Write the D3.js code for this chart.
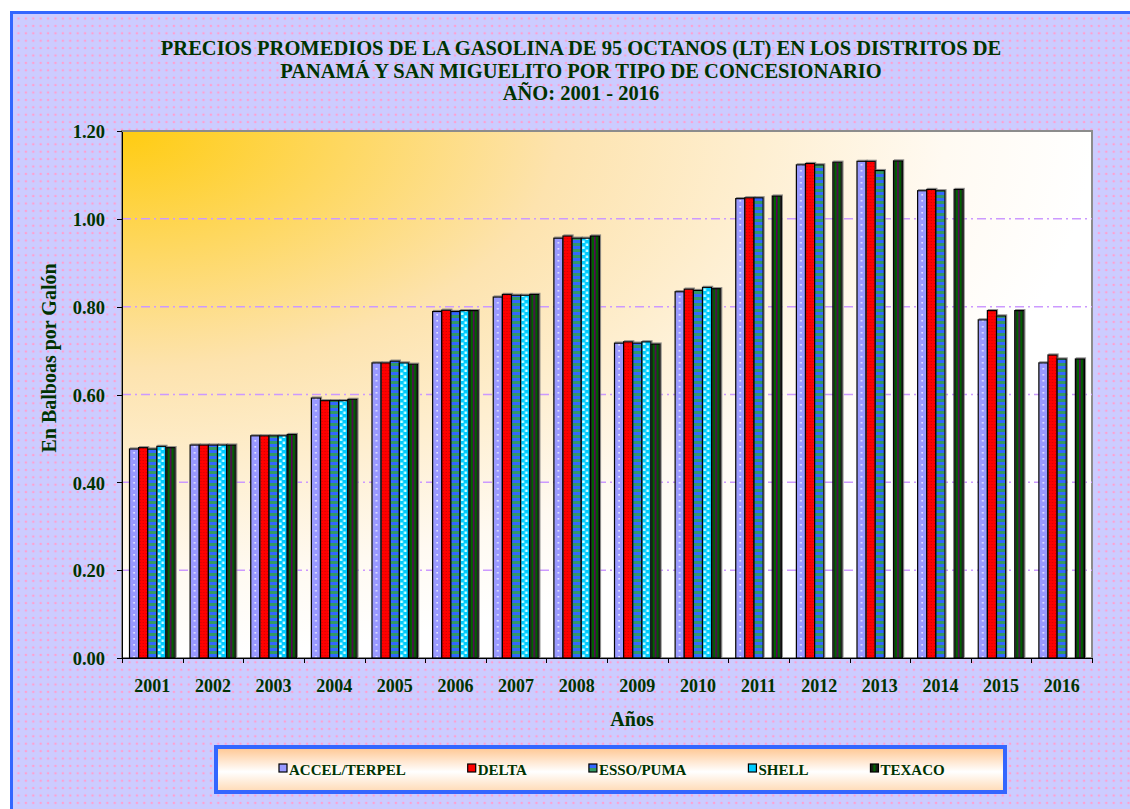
<!DOCTYPE html>
<html lang="es">
<head>
<meta charset="utf-8">
<title>Precios promedios de la gasolina de 95 octanos</title>
<script src="https://cdn.jsdelivr.net/npm/d3@7/dist/d3.min.js"></script>
<style>
body { margin: 0; background: #fff; }
svg text { font-family: "Liberation Serif", "Times New Roman", serif; font-weight: bold; fill: #003300; }
.axis path, .axis line { stroke: #000; shape-rendering: crispEdges; }
</style>
</head>
<body>
<div id="chart"></div>
<script>
// datos
var years = ['2001','2002','2003','2004','2005','2006','2007','2008',
             '2009','2010','2011','2012','2013','2014','2015','2016'];
var series = ['ACCEL/TERPEL', 'DELTA', 'ESSO/PUMA', 'SHELL', 'TEXACO'];
var accel  = [0.476, 0.485, 0.506, 0.592, 0.672, 0.789, 0.822, 0.956, 0.717, 0.834, 1.046, 1.123, 1.131, 1.064, 0.770, 0.672];
var delta  = [0.479, 0.485, 0.506, 0.586, 0.672, 0.792, 0.828, 0.961, 0.720, 0.840, 1.048, 1.126, 1.131, 1.067, 0.791, 0.690];
var esso   = [0.476, 0.485, 0.506, 0.586, 0.676, 0.789, 0.826, 0.956, 0.717, 0.837, 1.048, 1.123, 1.110, 1.064, 0.779, 0.681];
var shell  = [0.482, 0.485, 0.506, 0.586, 0.672, 0.791, 0.826, 0.956, 0.720, 0.844, null, null, null, null, null, null];
var texaco = [0.479, 0.485, 0.509, 0.589, 0.669, 0.791, 0.828, 0.961, 0.715, 0.841, 1.052, 1.129, 1.132, 1.067, 0.791, 0.681];
var yTicks = [0, 0.2, 0.4, 0.6, 0.8, 1.0, 1.2];
var titleLines = ['PRECIOS PROMEDIOS DE LA GASOLINA DE 95 OCTANOS (LT) EN LOS DISTRITOS DE',
                  'PANAMÁ Y SAN MIGUELITO POR TIPO DE CONCESIONARIO',
                  'AÑO: 2001 - 2016'];

var values = [accel, delta, esso, shell, texaco];

var W = 1130, H = 809;
var plot = { left: 122, right: 1092, top: 131, bottom: 658 };

var svg = d3.select('#chart').append('svg')
  .attr('width', W).attr('height', H);
var defs = svg.append('defs');

var x = d3.scaleBand().domain(years).range([plot.left, plot.right]).padding(0);
var step = x.step();
var xi = d3.scaleBand().domain(series).range([7.5, step - 7.5]).padding(0);
var bw = xi.bandwidth();
var y = d3.scaleLinear().domain([0, 1.2]).range([plot.bottom, plot.top]);

/* fondo lila con puntos rosados */
var bg = defs.append('pattern').attr('id', 'bgdots')
  .attr('patternUnits', 'userSpaceOnUse').attr('width', 7.4).attr('height', 7.4);
bg.append('rect').attr('width', 7.4).attr('height', 7.4).attr('fill', '#ccccff');
bg.append('circle').attr('cx', 3.7).attr('cy', 3.7).attr('r', 1.25).attr('fill', '#ff9fd0');

/* degradado del area de trazado */
var rg = defs.append('radialGradient').attr('id', 'plotgrad')
  .attr('cx', 0).attr('cy', 0).attr('r', 1).attr('fx', 0).attr('fy', 0);
rg.append('stop').attr('offset', '0%').attr('stop-color', '#ffcc11');
rg.append('stop').attr('offset', '45%').attr('stop-color', '#fde3ae');
rg.append('stop').attr('offset', '85%').attr('stop-color', '#fffaf2');
rg.append('stop').attr('offset', '100%').attr('stop-color', '#ffffff');

var lg = defs.append('linearGradient').attr('id', 'leggrad')
  .attr('x1', 0).attr('y1', 0).attr('x2', 0).attr('y2', 1);
lg.append('stop').attr('offset', '0%').attr('stop-color', '#ffc58f');
lg.append('stop').attr('offset', '55%').attr('stop-color', '#ffffff');
lg.append('stop').attr('offset', '100%').attr('stop-color', '#ffd9b3');

var sh = defs.append('filter').attr('id', 'shadow')
  .attr('x', '-50%').attr('y', '-5%').attr('width', '200%').attr('height', '110%');
sh.append('feDropShadow').attr('dx', 1).attr('dy', -1).attr('stdDeviation', 0.6)
  .attr('flood-color', '#777').attr('flood-opacity', 0.8);

/* tramas de las barras: el ancho del patron es un paso de categoria,
   asi cada serie queda alineada con su barra */
function barPattern(id, name, h) {
  var p = defs.append('pattern').attr('id', id)
    .attr('patternUnits', 'userSpaceOnUse')
    .attr('x', plot.left).attr('y', 0)
    .attr('width', step).attr('height', h);
  return p.append('g').attr('transform', 'translate(' + xi(name) + ',0)');
}
var g0 = barPattern('p0', series[0], 6);
g0.append('rect').attr('width', bw).attr('height', 6).attr('fill', '#9999ff');
g0.append('rect').attr('x', bw / 2 - 0.8).attr('y', 2).attr('width', 1.6).attr('height', 1.6).attr('fill', '#e8e8ff');

var g1 = barPattern('p1', series[1], 3);
g1.append('rect').attr('width', bw).attr('height', 3).attr('fill', '#ff0000');
g1.append('rect').attr('x', 1).attr('y', 1).attr('width', 1).attr('height', 1).attr('fill', '#c80000');
g1.append('rect').attr('x', 4).attr('y', 1).attr('width', 1).attr('height', 1).attr('fill', '#c80000');
g1.append('rect').attr('x', 7).attr('y', 1).attr('width', 1).attr('height', 1).attr('fill', '#c80000');

var g2 = barPattern('p2', series[2], 6);
g2.append('rect').attr('width', bw).attr('height', 3).attr('fill', '#3366ff');
g2.append('rect').attr('y', 3).attr('width', bw).attr('height', 3).attr('fill', '#339966');

var g3 = barPattern('p3', series[3], 6);
g3.append('rect').attr('width', bw).attr('height', 6).attr('fill', '#00ccff');
g3.append('rect').attr('x', 1).attr('y', 0.5).attr('width', 2.5).attr('height', 2.5).attr('fill', '#ccffff');
g3.append('rect').attr('x', 4.5).attr('y', 3.5).attr('width', 2.5).attr('height', 2.5).attr('fill', '#ccffff');

var g4 = barPattern('p4', series[4], 4);
g4.append('rect').attr('width', bw).attr('height', 4).attr('fill', '#1a1a1a');
g4.append('rect').attr('x', bw * 0.18).attr('width', bw * 0.22).attr('height', 4).attr('fill', '#006600');
g4.append('rect').attr('x', bw * 0.42).attr('width', bw * 0.16).attr('height', 4).attr('fill', '#660066');
g4.append('rect').attr('x', bw * 0.6).attr('width', bw * 0.22).attr('height', 4).attr('fill', '#006600');

/* fondo y marco */
svg.append('rect').attr('x', 11.5).attr('y', 12.5).attr('width', W + 20).attr('height', H)
  .attr('fill', 'url(#bgdots)').attr('stroke', '#3366ff').attr('stroke-width', 3);

/* area de trazado */
svg.append('rect').attr('x', plot.left).attr('y', plot.top)
  .attr('width', plot.right - plot.left).attr('height', plot.bottom - plot.top)
  .attr('fill', 'url(#plotgrad)').attr('stroke', '#8c8c8c').attr('stroke-width', 2);

/* lineas de division */
svg.append('g').selectAll('line')
  .data(yTicks.filter(function(d) { return d > 0 && d < 1.2; }))
  .enter().append('line')
  .attr('x1', plot.left).attr('x2', plot.right)
  .attr('y1', function(d) { return y(d); }).attr('y2', function(d) { return y(d); })
  .attr('stroke', '#cc99ff').attr('stroke-width', 1.5)
  .attr('stroke-dasharray', '9,4,2,4');

/* barras */
var flat = [];
years.forEach(function(yr, i) {
  series.forEach(function(s, j) {
    if (values[j][i] != null) flat.push({ year: yr, s: s, j: j, v: values[j][i] });
  });
});
svg.append('g').selectAll('rect')
  .data(flat)
  .enter().append('rect')
  .attr('x', function(d) { return x(d.year) + xi(d.s); })
  .attr('y', function(d) { return y(d.v); })
  .attr('width', bw)
  .attr('height', function(d) { return y(0) - y(d.v); })
  .attr('fill', function(d) { return 'url(#p' + d.j + ')'; })
  .attr('stroke', '#000').attr('stroke-width', 1.2)
  .attr('filter', 'url(#shadow)');

/* ejes */
svg.append('g').attr('class', 'axis')
  .attr('transform', 'translate(' + plot.left + ',0)')
  .call(d3.axisLeft(y).tickValues(yTicks).tickFormat(d3.format('.2f'))
    .tickSize(5).tickSizeOuter(0).tickPadding(12))
  .call(function(g) {
    g.selectAll('text').style('font-size', '18.5px').attr('dy', '0.36em');
  });

var xEdge = d3.scaleLinear().domain([0, years.length]).range([plot.left, plot.right]);
svg.append('g').attr('class', 'axis')
  .attr('transform', 'translate(0,' + plot.bottom + ')')
  .call(d3.axisBottom(xEdge).tickValues(d3.range(years.length + 1))
    .tickFormat('').tickSize(5).tickSizeOuter(0));

svg.append('g').attr('class', 'axis')
  .attr('transform', 'translate(0,' + plot.bottom + ')')
  .call(d3.axisBottom(x).tickSize(0).tickPadding(21))
  .call(function(g) {
    g.select('.domain').remove();
    g.selectAll('text').style('font-size', '18px');
  });

/* titulos */
svg.append('g').selectAll('text')
  .data(titleLines)
  .enter().append('text')
  .attr('x', 581).attr('y', function(d, i) { return 55 + i * 22.5; })
  .attr('text-anchor', 'middle')
  .style('font-size', '20.5px')
  .text(function(d) { return d; });

svg.append('text').attr('x', 632).attr('y', 726)
  .attr('text-anchor', 'middle').style('font-size', '20px').text('Años');

svg.append('text')
  .attr('transform', 'translate(56,358) rotate(-90)')
  .attr('text-anchor', 'middle').style('font-size', '20px')
  .text('En Balboas por Galón');

/* leyenda */
svg.append('rect').attr('x', 216).attr('y', 747).attr('width', 789).attr('height', 45)
  .attr('fill', 'url(#leggrad)').attr('stroke', '#3366ff').attr('stroke-width', 4);

var lx = 279;
series.forEach(function(s, j) {
  svg.append('rect').attr('x', lx).attr('y', 764).attr('width', 8).attr('height', 8)
    .attr('fill', 'url(#lp' + j + ')')
    .attr('stroke', '#000').attr('stroke-width', 1.2);
  var t = svg.append('text').attr('x', lx + 10).attr('y', 774.5)
    .style('font-size', '15px').text(s);
  lx = lx + 10 + t.node().getComputedTextLength() + 62;
});

/* tramas pequenas de la leyenda */
var legFill = [['#9999ff'], ['#ff0000'], ['#3366ff', '#339966'], ['#00ccff'], ['#1a1a1a', '#006600']];
legFill.forEach(function(c, j) {
  var p = defs.append('pattern').attr('id', 'lp' + j)
    .attr('patternUnits', 'objectBoundingBox').attr('patternContentUnits', 'objectBoundingBox')
    .attr('width', 1).attr('height', 1);
  p.append('rect').attr('width', 1).attr('height', 1).attr('fill', c[0]);
  if (j == 2) p.append('rect').attr('y', 0.5).attr('width', 1).attr('height', 0.5).attr('fill', c[1]);
  if (j == 4) p.append('rect').attr('x', 0.35).attr('width', 0.3).attr('height', 1).attr('fill', c[1]);
});
</script>
</body>
</html>
